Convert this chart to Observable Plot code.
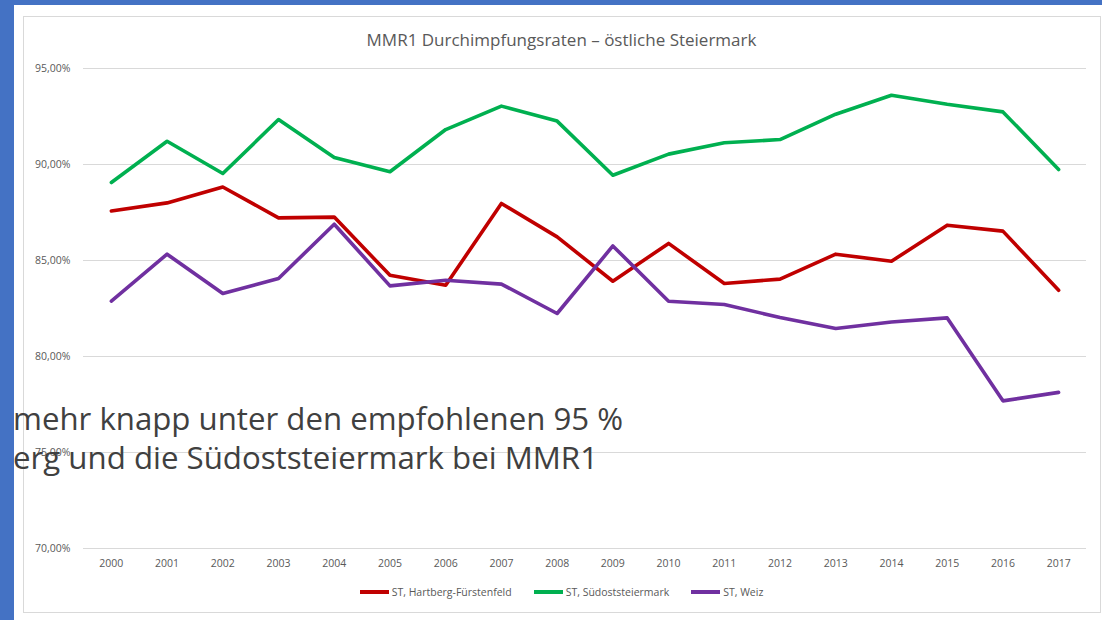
<!DOCTYPE html>
<html><head><meta charset="utf-8">
<script src="https://cdn.jsdelivr.net/npm/d3@7"></script>
<script src="https://cdn.jsdelivr.net/npm/@observablehq/plot@0.6"></script>
<style>
html,body{margin:0;padding:0;}
body{width:1102px;height:620px;background:#4472C4;position:relative;overflow:hidden;font-family:"Open Sans",sans-serif;}
#panel{position:absolute;left:14px;top:5px;width:1088px;height:615px;background:#fff;}
#frame{position:absolute;left:23px;top:16px;width:1078px;height:597px;border:1px solid #d9d9d9;box-sizing:border-box;}
#title{position:absolute;left:23px;width:1077px;top:29px;text-align:center;font-size:17px;line-height:22px;color:#595959;white-space:nowrap;}
#chart{position:absolute;left:23px;top:16px;}
#legend{position:absolute;left:23px;width:1077px;top:584px;display:flex;justify-content:center;gap:22px;font-size:10.5px;line-height:16px;color:#595959;}
.item{display:flex;align-items:center;gap:3px;white-space:nowrap;}
.sw{width:29px;height:4px;display:inline-block;}
#overlay{position:absolute;left:0;top:0;pointer-events:none;}
</style>
</head><body>
<div id="panel"></div>
<div id="frame"></div>
<div id="title"></div>
<div id="chart"></div>
<div id="legend"></div>
<svg id="overlay" width="1102" height="620"></svg>
<script>
const titleText = "MMR1 Durchimpfungsraten – östliche Steiermark";
const years = [2000,2001,2002,2003,2004,2005,2006,2007,2008,2009,2010,2011,2012,2013,2014,2015,2016,2017];
const hartberg = [87.58,88.0,88.83,87.22,87.26,84.23,83.71,87.97,86.23,83.92,85.89,83.8,84.03,85.33,84.96,86.84,86.53,83.45];
const suedost = [89.06,91.21,89.53,92.34,90.36,89.62,91.82,93.04,92.26,89.44,90.54,91.13,91.3,92.62,93.61,93.14,92.74,89.74];
const weiz = [82.88,85.33,83.28,84.06,86.89,83.68,83.97,83.77,82.24,85.76,82.88,82.71,82.03,81.46,81.8,82.01,77.69,78.13];
const seriesNames = ["ST, Hartberg-Fürstenfeld","ST, Südoststeiermark","ST, Weiz"];
const seriesColors = ["#C00000","#00B050","#7030A0"];
const yTicks = [70,75,80,85,90,95];
const overlayLines = ["mehr knapp unter den empfohlenen 95 %","erg und die Südoststeiermark bei MMR1"];

const data = [];
[hartberg, suedost, weiz].forEach((vals, i) => vals.forEach((v, j) => data.push({year: years[j], value: v, series: seriesNames[i]})));

document.getElementById("title").textContent = titleText;

const chart = Plot.plot({
  width: 1077, height: 596,
  marginLeft: 60, marginRight: 14, marginTop: 52, marginBottom: 64,
  style: {fontFamily: "Open Sans", fontSize: "10.5px", color: "#595959", background: "transparent"},
  x: {type: "point", domain: years, padding: 0.5, round: false, label: null},
  y: {domain: [70, 95], label: null},
  color: {domain: seriesNames, range: seriesColors},
  marks: [
    Plot.gridY(yTicks, {stroke: "#d9d9d9", strokeOpacity: 1}),
    Plot.axisY(yTicks, {tickSize: 0, tickPadding: 13, tickFormat: d => d.toFixed(2).replace(".", ",") + "%", fill: "#595959", label: null}),
    Plot.axisX({tickSize: 0, tickPadding: 11, tickFormat: d => String(d), fill: "#595959", label: null}),
    Plot.line(data, {x: "year", y: "value", stroke: "series", z: "series", strokeWidth: 3.6})
  ]
});
document.getElementById("chart").appendChild(chart);

const legend = document.getElementById("legend");
seriesNames.forEach((n, i) => {
  const it = document.createElement("div"); it.className = "item";
  const sw = document.createElement("span"); sw.className = "sw"; sw.style.background = seriesColors[i];
  const t = document.createElement("span"); t.textContent = n;
  it.appendChild(sw); it.appendChild(t); legend.appendChild(it);
});

const ov = d3.select("#overlay");
const lens = [610, 585];
const bases = [430, 469];
overlayLines.forEach((s, i) => {
  ov.append("text").attr("x", 13).attr("y", bases[i])
    .attr("font-family", "Open Sans").attr("font-size", 31).attr("fill", "#404040")
    .attr("textLength", lens[i]).attr("lengthAdjust", "spacingAndGlyphs").text(s);
});
</script>
</body></html>
